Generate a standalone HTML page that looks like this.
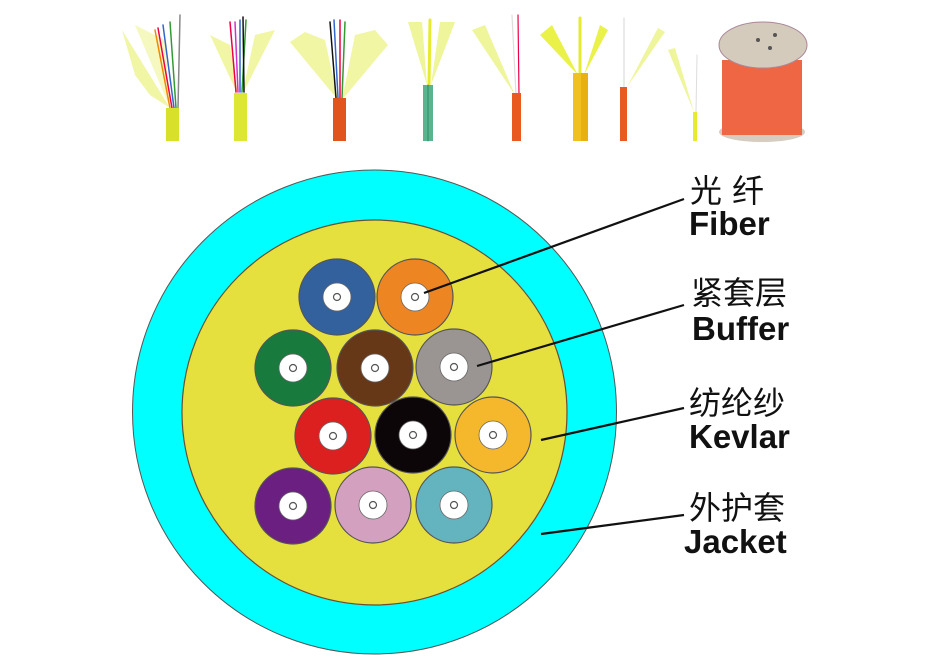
<!DOCTYPE html>
<html><head><meta charset="utf-8"><style>
html,body{margin:0;padding:0;background:#fff;width:931px;height:665px;overflow:hidden}
svg{display:block}
.cn{font-family:"Liberation Sans","Noto Sans CJK SC",sans-serif;font-size:32px;fill:#111}
.en{font-family:"Liberation Sans",sans-serif;font-size:33px;font-weight:bold;fill:#111}
</style></head><body>
<svg width="931" height="665" viewBox="0 0 931 665" xmlns="http://www.w3.org/2000/svg">
<g stroke-linecap="round">
 <!-- cable 1 -->
 <polygon points="170,108 122,30 135,75 150,95" fill="#eef59a" opacity="0.9"/>
 <polygon points="170,108 135,25 165,40" fill="#f2f7b0" opacity="0.8"/>
 <g stroke-width="1.5"><line x1="172" y1="108" x2="158" y2="28" stroke="#e04"/><line x1="174" y1="108" x2="163" y2="25" stroke="#36c"/><line x1="176" y1="108" x2="170" y2="22" stroke="#393"/><line x1="178" y1="108" x2="180" y2="15" stroke="#888"/><line x1="170" y1="108" x2="155" y2="30" stroke="#e80"/></g>
 <rect x="166" y="108" width="13" height="33" fill="#d8e02a"/>
 <!-- cable 2 -->
 <polygon points="238,95 210,35 230,45" fill="#eef59a" opacity="0.9"/>
 <polygon points="242,95 275,30 255,35" fill="#eef59a" opacity="0.9"/>
 <g stroke-width="1.5"><line x1="236" y1="92" x2="230" y2="22" stroke="#e04"/><line x1="238" y1="92" x2="235" y2="22" stroke="#c3c"/><line x1="240" y1="92" x2="240" y2="20" stroke="#36c"/><line x1="242" y1="92" x2="246" y2="20" stroke="#393"/><line x1="244" y1="92" x2="243" y2="17" stroke="#111"/></g>
 <rect x="234" y="93" width="13" height="48" fill="#dde535"/>
 <!-- cable 3 -->
 <polygon points="338,100 290,42 305,32 325,40" fill="#eef59a" opacity="0.9"/>
 <polygon points="342,100 388,45 375,30 355,35" fill="#eef59a" opacity="0.9"/>
 <g stroke-width="1.5"><line x1="336" y1="98" x2="330" y2="22" stroke="#111"/><line x1="338" y1="98" x2="334" y2="20" stroke="#36c"/><line x1="340" y1="98" x2="340" y2="20" stroke="#e04"/><line x1="342" y1="98" x2="345" y2="22" stroke="#393"/></g>
 <rect x="333" y="98" width="13" height="43" fill="#e2541e"/>
 <!-- cable 4 -->
 <polygon points="427,85 408,22 422,22" fill="#eef59a"/>
 <polygon points="431,85 455,22 440,22" fill="#eef59a"/>
 <line x1="429" y1="85" x2="430" y2="20" stroke="#e6ea30" stroke-width="3"/>
 <rect x="423" y="85" width="10" height="56" fill="#5ab58e"/><line x1="428" y1="85" x2="428" y2="141" stroke="#2c8a66" stroke-width="1"/>
 <!-- cable 5 -->
 <polygon points="515,95 472,30 485,25" fill="#eef59a"/>
 <line x1="519" y1="95" x2="518" y2="15" stroke="#e04" stroke-width="1.2"/><line x1="516" y1="95" x2="512" y2="15" stroke="#ddd" stroke-width="1.2"/>
 <rect x="512" y="93" width="9" height="48" fill="#e85a20"/>
 <!-- cable 6 -->
 <polygon points="578,75 540,35 552,25" fill="#eaf24a"/>
 <polygon points="584,75 600,25 608,30" fill="#eaf24a"/>
 <line x1="580" y1="75" x2="580" y2="18" stroke="#e6ea30" stroke-width="3"/>
 <rect x="573" y="73" width="8" height="68" fill="#f0c020"/><rect x="581" y="73" width="7" height="68" fill="#e8b010"/>
 <!-- cable 7 -->
 <polygon points="627,87 658,28 665,32" fill="#eef59a"/>
 <line x1="624" y1="87" x2="624" y2="18" stroke="#ddd" stroke-width="1.2"/>
 <rect x="620" y="87" width="7" height="54" fill="#e85a20"/>
 <!-- cable 8 -->
 <polygon points="694,112 668,50 675,48" fill="#eef59a"/>
 <line x1="696" y1="112" x2="697" y2="55" stroke="#ddd" stroke-width="1"/>
 <rect x="693" y="112" width="4" height="29" fill="#e6ea30"/>
 <!-- spool -->
 <ellipse cx="762" cy="132" rx="43" ry="10" fill="#d6ccc0"/>
 <rect x="722" y="60" width="80" height="75" fill="#ee6644"/>
 <ellipse cx="763" cy="45" rx="44" ry="23" fill="#d4cbbd" stroke="#a89" stroke-width="1"/>
 <circle cx="758" cy="40" r="2" fill="#555"/><circle cx="775" cy="35" r="2" fill="#555"/><circle cx="770" cy="48" r="2" fill="#555"/>
</g>

<circle cx="374.5" cy="412" r="242" fill="#00ffff" stroke="#555" stroke-width="1"/>
<circle cx="374.5" cy="412.5" r="192.5" fill="#e6e03e" stroke="#6a5030" stroke-width="1.2"/>
<g stroke="#555" stroke-width="1.2">
 <circle cx="337" cy="297" r="38" fill="#33619e"/>
 <circle cx="415" cy="297" r="38" fill="#ec8522"/>
 <circle cx="293" cy="368" r="38" fill="#187a3c"/>
 <circle cx="375" cy="368" r="38" fill="#673818"/>
 <circle cx="454" cy="367" r="38" fill="#9a9592"/>
 <circle cx="333" cy="436" r="38" fill="#dc2020"/>
 <circle cx="413" cy="435" r="38" fill="#0c0608"/>
 <circle cx="493" cy="435" r="38" fill="#f5b82c"/>
 <circle cx="293" cy="506" r="38" fill="#6b1f80"/>
 <circle cx="373" cy="505" r="38" fill="#d4a0c0"/>
 <circle cx="454" cy="505" r="38" fill="#64b4c0"/>
</g>
<g fill="#fff" stroke="#666" stroke-width="0.8">
 <circle cx="337" cy="297" r="14"/><circle cx="415" cy="297" r="14"/><circle cx="293" cy="368" r="14"/><circle cx="375" cy="368" r="14"/><circle cx="454" cy="367" r="14"/><circle cx="333" cy="436" r="14"/><circle cx="413" cy="435" r="14"/><circle cx="493" cy="435" r="14"/><circle cx="293" cy="506" r="14"/><circle cx="373" cy="505" r="14"/><circle cx="454" cy="505" r="14"/>
</g>
<g fill="none" stroke="#555" stroke-width="1.2">
 <circle cx="337" cy="297" r="3.5"/><circle cx="415" cy="297" r="3.5"/><circle cx="293" cy="368" r="3.5"/><circle cx="375" cy="368" r="3.5"/><circle cx="454" cy="367" r="3.5"/><circle cx="333" cy="436" r="3.5"/><circle cx="413" cy="435" r="3.5"/><circle cx="493" cy="435" r="3.5"/><circle cx="293" cy="506" r="3.5"/><circle cx="373" cy="505" r="3.5"/><circle cx="454" cy="505" r="3.5"/>
</g>

<g stroke="#111" stroke-width="2.2">
 <line x1="424" y1="293" x2="684" y2="199"/>
 <line x1="477" y1="366" x2="684" y2="305"/>
 <line x1="541" y1="440" x2="684" y2="408"/>
 <line x1="541" y1="534" x2="684" y2="515"/>
</g>

<text class="cn" x="690" y="202" letter-spacing="10">光纤</text>
<text class="en" x="689" y="235">Fiber</text>
<text class="cn" x="691" y="304">紧套层</text>
<text class="en" x="692" y="340">Buffer</text>
<text class="cn" x="689" y="414">纺纶纱</text>
<text class="en" x="689" y="448">Kevlar</text>
<text class="cn" x="689" y="519">外护套</text>
<text class="en" x="684" y="553">Jacket</text>
</svg>
</body></html>
